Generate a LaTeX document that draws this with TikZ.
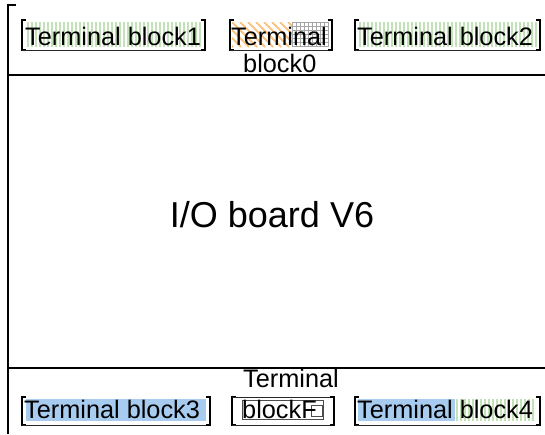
\documentclass[tikz,border=0pt]{standalone}
\usepackage{fontspec}
\setmainfont{Liberation Sans}
\definecolor{stripegreen}{RGB}{196,226,184}
\definecolor{lightblue}{RGB}{168,204,240}
\definecolor{hatchorange}{RGB}{250,195,130}
\tikzset{
  lbl/.style={font=\fontsize{25.3}{27}\selectfont, inner sep=0pt, text=black},
  big/.style={font=\fontsize{36}{40}\selectfont, inner sep=0pt},
  frame/.style={line width=2pt, black},
  brk/.style={line width=2pt, black},
  thinl/.style={line width=0.9pt, black!85},
  gstripe/.style={line width=2pt, stripegreen},
  ostripe/.style={line width=2pt, hatchorange},
  gline/.style={line width=0.5pt, black!35},
  bluefill/.style={fill=lightblue},
}
\begin{document}
\begin{tikzpicture}[x=1pt,y=-1pt]
\useasboundingbox (0,0) rectangle (545,434);
% outer frame
\coordinate (ftl) at (8,5);
\coordinate (ftr) at (16,5);
\coordinate (fbl) at (8,434);
\draw[frame] (ftr) -- (ftl) -- (fbl);
\coordinate (h1l) at (8,75);
\coordinate (h1r) at (545,75);
\coordinate (h2l) at (8,368);
\coordinate (h2r) at (545,368);
\draw[frame] (h1l) -- (h1r);
\draw[frame] (h2l) -- (h2r);
% fills
\foreach \x in {28,32,...,200} \draw[gstripe] (\x,22) -- (\x,47);
\foreach \x in {360,364,...,536} \draw[gstripe] (\x,22) -- (\x,47);
\foreach \x in {457,461,...,536} \draw[gstripe] (\x,399) -- (\x,421);
\begin{scope}
  \clip (232,22) rectangle (292,47);
  \foreach \x in {200,208,...,300} \draw[ostripe] (\x,22) -- (\x+25,47);
\end{scope}
\foreach \x in {292,296,...,328} \draw[gline] (\x,22) -- (\x,47);
\foreach \y in {22,26,...,47} \draw[gline] (292,\y) -- (328,\y);
\fill[bluefill] (26,399) rectangle (206,421);
\fill[bluefill] (358,399) rectangle (455,421);
% brackets top
\draw[brk] (26,20) -- (22,20) -- (22,50) -- (26,50);
\draw[thinl] (22,50) -- (205,50);
\draw[brk] (201,20) -- (205,20) -- (205,50) -- (201,50);
\draw[brk] (234,20) -- (230,20) -- (230,50) -- (234,50);
\draw[thinl] (230,50) -- (332,50);
\draw[brk] (328,20) -- (332,20) -- (332,50) -- (328,50);
\draw[brk] (359,20) -- (355,20) -- (355,50) -- (359,50);
\draw[thinl] (355,50) -- (540,50);
\draw[brk] (536,20) -- (540,20) -- (540,50) -- (536,50);
% brackets bottom
\draw[brk] (26,397) -- (22,397) -- (22,425) -- (26,425);
\draw[thinl] (22,425) -- (210,425);
\draw[brk] (206,397) -- (210,397) -- (210,425) -- (206,425);
\draw[brk] (236,397) -- (232,397) -- (232,425) -- (236,425);
\draw[thinl] (232,397) -- (334,397);
\draw[thinl] (232,425) -- (334,425);
\draw[brk] (330,397) -- (334,397) -- (334,425) -- (330,425);
\draw[thinl, black!70] (242,400) rectangle (323,419);
\draw[thinl, black!70] (311,405) rectangle (322,416);
\draw[brk] (359,397) -- (355,397) -- (355,425) -- (359,425);
\draw[thinl] (355,425) -- (540,425);
\draw[brk] (536,397) -- (540,397) -- (540,425) -- (536,425);
% texts
\node[lbl, anchor=base west] (tb1) at (25,45) {Terminal block1};
\node[lbl, anchor=base west] (tb0a) at (231,45) {Terminal};
\node[lbl, anchor=base west] (tb0b) at (243,72) {block0};
\node[lbl, anchor=base west] (tb2) at (357,45) {Terminal block2};
\node[big] (io) at (272,215) {I/O board V6};
\node[lbl, anchor=base west] (tb3) at (24,418) {Terminal block3};
\node[lbl, anchor=base west] (tbFa) at (243,387) {Terminal};
\node[lbl, anchor=base west] (tbFb) at (242,418) {blockF};
\node[lbl, anchor=base west] (tb4) at (357,418) {Terminal block4};
\end{tikzpicture}
\end{document}
